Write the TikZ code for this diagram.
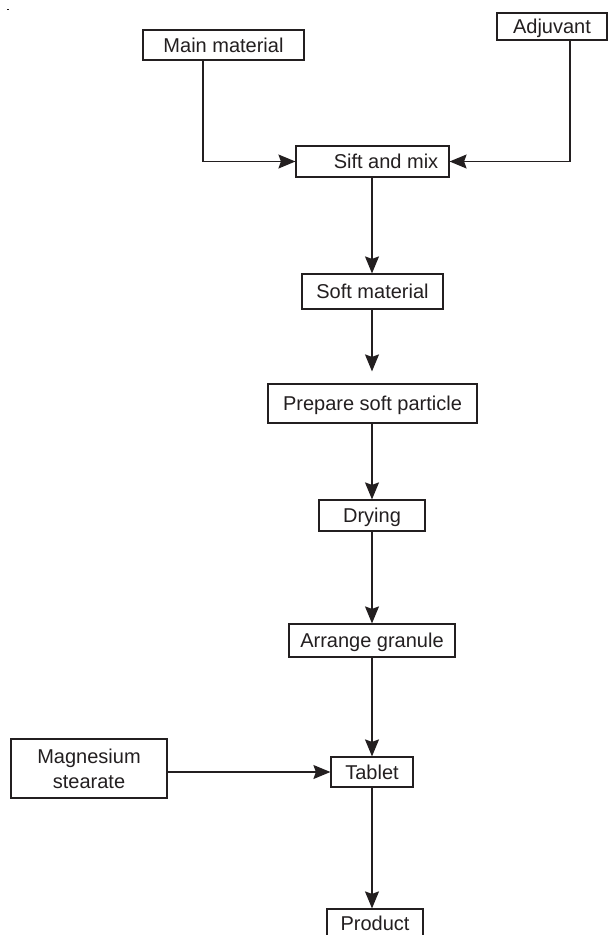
\documentclass[tikz,border=0pt]{standalone}
\usepackage{fontspec}
\setmainfont{Liberation Sans}
\usetikzlibrary{arrows.meta}
\definecolor{ink}{HTML}{231F20}
\begin{document}
\begin{tikzpicture}[x=1pt,y=-1pt,
  box/.style={draw=ink, line width=1.2pt, rectangle, inner sep=0pt, text=ink,
    font=\fontsize{20}{25}\selectfont, text height=14.3pt, text depth=0pt, align=center},
  flow/.style={draw=ink, line width=1.2pt, -{Stealth[length=17pt,width=14pt,inset=2.5pt]}}]
\clip (0,0) rectangle (608,935);
\fill[white] (0,0) rectangle (608,935);
\fill[ink] (7,8.5) rectangle (9,10);
\node[box, minimum width=161pt, minimum height=30pt] (main) at (223.5,45) {Main material};
\node[box, minimum width=110pt, minimum height=27pt] (adj) at (552,26.5) {Adjuvant};
\node[box, minimum width=153pt, minimum height=31pt] (sift) at (372.5,161.5) {\hspace*{27pt}Sift and mix};
\node[box, minimum width=141pt, minimum height=35pt] (soft) at (372.5,291.5) {Soft material};
\node[box, minimum width=209pt, minimum height=39pt] (prep) at (372.5,403.5) {Prepare soft particle};
\node[box, minimum width=106pt, minimum height=31pt] (dry) at (372,515.5) {Drying};
\node[box, minimum width=166pt, minimum height=33pt] (arr) at (372,640.5) {Arrange granule};
\node[box, minimum width=82pt, minimum height=30pt] (tab) at (372,772) {Tablet};
\node[box, minimum width=156pt, minimum height=59pt, text height=, text depth=, font=\fontsize{20}{25}\selectfont] (mag) at (89,768.5) {Magnesium\\stearate};
\node[box, minimum width=96pt, minimum height=29pt] (prod) at (375,923.5) {Product};
\draw[flow] ([xshift=-20.5pt]main.south) |- (sift.west);
\draw[flow] ([xshift=18pt]adj.south) |- (sift.east);
\draw[flow] ([xshift=-0.5pt]sift.south) -- ([xshift=-0.5pt]soft.north);
\draw[flow, shorten >=12pt] ([xshift=-0.5pt]soft.south) -- ([xshift=-0.5pt]prep.north);
\draw[flow] ([xshift=-0.5pt]prep.south) -- (dry.north);
\draw[flow] (dry.south) -- (arr.north);
\draw[flow] (arr.south) -- (tab.north);
\draw[flow] (mag.east |- tab.west) -- (tab.west);
\draw[flow] (tab.south) -- (tab.south |- prod.north);
\end{tikzpicture}
\end{document}
